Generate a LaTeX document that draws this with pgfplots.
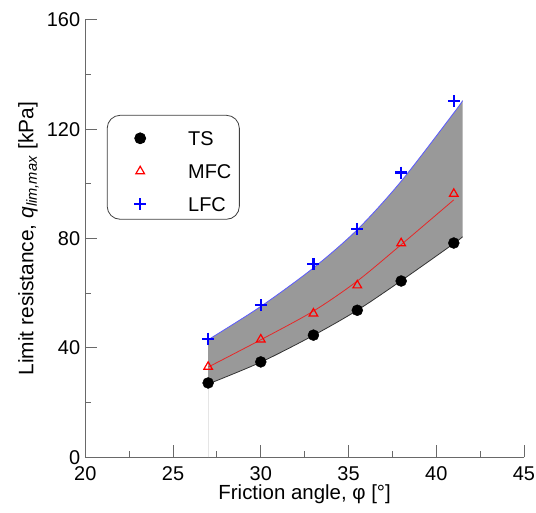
\documentclass[border=0pt]{standalone}
\usepackage{fontspec}
\setmainfont{Liberation Sans}
\usepackage{pgfplots}
\pgfplotsset{compat=1.18}
\usepgfplotslibrary{fillbetween}
\definecolor{axgray}{RGB}{105,105,105}
\definecolor{fillgray}{RGB}{153,153,153}
\definecolor{lineblue}{RGB}{90,90,255}
\definecolor{linered}{RGB}{230,40,40}
\begin{document}
\begin{tikzpicture}
\begin{axis}[
  at={(0,0)}, anchor=south west,
  scale only axis, width=438.7bp, height=437.3bp,
  xmin=20, xmax=45, ymin=0, ymax=160,
  axis x line*=bottom, axis y line*=left,
  axis line style={axgray, line width=1.2bp},
  xtick={20,25,...,45}, ytick={0,40,...,160},
  minor x tick num=1, minor y tick num=1,
  tick align=inside, major tick length=12bp, minor tick length=6bp,
  tick style={axgray, line width=1bp},
  ticklabel style={font=\fontsize{20}{24}\selectfont},
  /pgf/number format/assume math mode=true,
  xticklabel style={anchor=base, inner sep=0pt, yshift=-22.7bp},
  yticklabel style={anchor=east, inner sep=0pt, xshift=-5bp},
  xlabel={Friction angle, φ [°]},
  ylabel={Limit resistance, \textit{q}\textsubscript{\textit{lim,max}} [kPa]},
  xlabel style={font=\fontsize{20.5}{24}\selectfont, at={(axis description cs:0.5,-0.0954)}, anchor=base, inner sep=0pt},
  ylabel style={font=\fontsize{21}{24}\selectfont, at={(axis description cs:-0.1185,0.5)}, anchor=base, inner sep=0pt},
  legend style={at={(axis description cs:0.049,0.783)}, anchor=north west,
    draw=black!75, line width=0.8bp, rounded corners=13bp, inner xsep=8bp, inner ysep=7.8bp,
    font=\fontsize{20}{24}\selectfont,
    nodes={inner sep=0pt, text height=22.4bp, text depth=0bp},
    row sep=10.6bp},
  legend cell align=left,
  legend image code/.code={\path[draw=none,fill=none] (0bp,-11.2bp) (73bp,11.2bp);
    \draw[#1,rounded corners=0pt] plot coordinates {(25bp,-4bp)};},
]
% curves
\addplot[name path=up, lineblue, line width=0.8bp, smooth, forget plot] coordinates {
  (27,43.0)(30,55.2)(33,69.3)(35.5,83.3)(38,101.0)(41,126.0)(41.5,130.5)};
\addplot[name path=lo, black!80, line width=0.8bp, smooth, forget plot] coordinates {
  (27,26.8)(30,34.8)(33,44.6)(35.5,53.8)(38,64.6)(41,78.2)(41.5,80.7)};
\addplot[fillgray, forget plot] fill between[of=up and lo];
\addplot[linered, line width=0.8bp, smooth, forget plot] coordinates {
  (27,33.0)(30,43.0)(33,53.5)(35.5,64.5)(38,77.8)(41,94.2)};
\addplot[black!10, line width=0.8bp, forget plot] coordinates {(27,0)(27,26.8)};
% data
\addplot[only marks, black, mark=*, mark size=5.5bp] coordinates {
  (27,27.2)(30,34.9)(33,44.7)(35.5,53.8)(38,64.5)(41,78.4)};
\addlegendentry{TS}
\addplot[only marks, red, mark=triangle, mark size=5bp, line width=1.2bp] coordinates {
  (27,33.1)(30,43.1)(33,52.6)(35.5,62.9)(38,78.3)(41,96.4)};
\addlegendentry{MFC}
\addplot[only marks, blue, mark=+, mark size=6bp, line width=2.2bp] coordinates {
  (27,43.4)(30,55.6)(33,70.6)(35.5,83.6)(38,104.2)(41,130.3)};
\addlegendentry{LFC}
\end{axis}
\pgfresetboundingbox
\path[use as bounding box] (-85.3bp,-55.7bp) rectangle (450.7bp,457.3bp);
\end{tikzpicture}
\end{document}
